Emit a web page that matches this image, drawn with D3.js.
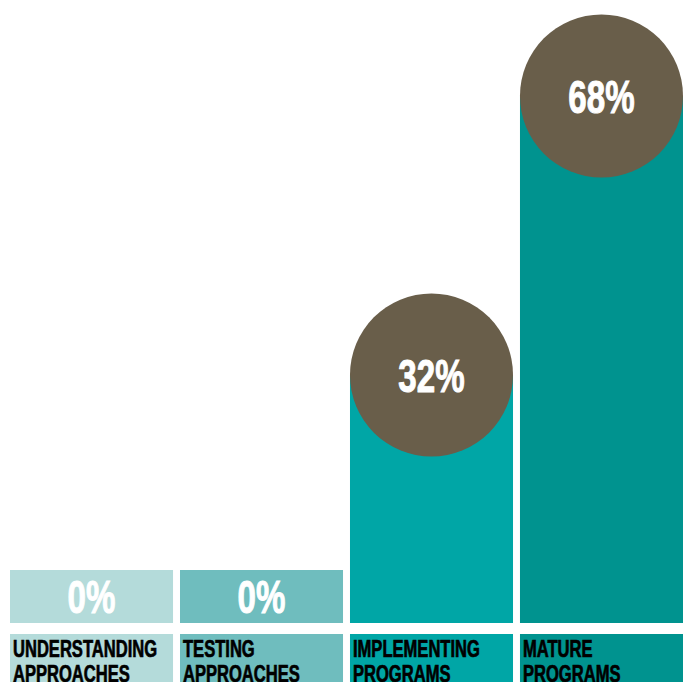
<!DOCTYPE html>
<html>
<head>
<meta charset="utf-8">
<script src="https://cdn.jsdelivr.net/npm/d3@7"></script>
<style>
  html, body { margin: 0; padding: 0; background: #fff; }
  svg { display: block; }
</style>
</head>
<body>
<script>
'use strict';

// chart data
const stages = ["understanding", "testing", "implementing", "mature"];
const labelLines = [
  ["UNDERSTANDING", "APPROACHES"],
  ["TESTING", "APPROACHES"],
  ["IMPLEMENTING", "PROGRAMS"],
  ["MATURE", "PROGRAMS"]
];
const shares = [0, 0, 32, 68];

// colours per column
const fills = ["#b4dbda", "#6fbdbe", "#00a6a6", "#00938f"];
const bubbleColor = "#695e4a";
const fontFam = "'Liberation Sans', Arial, sans-serif";
const squeeze = 0.72; // condensed look

const width = 685, height = 682;
const baseY = 623;      // bottom of bars
const zeroBox = 53;     // height of the box drawn for a 0% value

const svg = d3.select("body").append("svg")
  .attr("width", width)
  .attr("height", height);

const x = d3.scaleBand()
  .domain(stages)
  .range([10, 683])
  .paddingInner(0.041)
  .paddingOuter(0);

const y = d3.scaleLinear()
  .domain([0, 100])
  .range([baseY, baseY - 775]);

const rows = stages.map((s, i) => ({ stage: s, value: shares[i], lines: labelLines[i], fill: fills[i] }));

// bars
const col = svg.selectAll(".col")
  .data(rows)
  .enter().append("g")
  .attr("class", "col");

col.append("rect")
  .attr("x", d => x(d.stage))
  .attr("width", x.bandwidth())
  .attr("y", d => d.value > 0 ? y(d.value) : baseY - zeroBox)
  .attr("height", d => d.value > 0 ? baseY - y(d.value) : zeroBox)
  .attr("fill", d => d.fill);

// bubbles on top of non-zero bars
const big = col.filter(d => d.value > 0);
big.append("circle")
  .attr("cx", d => x(d.stage) + x.bandwidth() / 2)
  .attr("cy", d => y(d.value))
  .attr("r", x.bandwidth() / 2)
  .attr("fill", bubbleColor);

// value text
function valueText(sel, cyFn) {
  sel.append("text")
    .attr("transform", d => "translate(" + (x(d.stage) + x.bandwidth() / 2) + "," + (cyFn(d) + 16.5) + ") scale(" + squeeze + ",1)")
    .attr("text-anchor", "middle")
    .style("font-family", fontFam)
    .style("font-weight", "bold")
    .style("font-size", "46px")
    .attr("fill", "#fff")
    .attr("stroke", "#fff")
    .attr("stroke-width", 1)
    .text(d => d.value + "%");
}
valueText(big, d => y(d.value));
valueText(col.filter(d => d.value === 0), d => baseY - zeroBox / 2);

// category boxes
col.append("rect")
  .attr("x", d => x(d.stage))
  .attr("width", x.bandwidth())
  .attr("y", 634)
  .attr("height", 60)
  .attr("fill", d => d.fill);

col.each(function(d) {
  const g = d3.select(this);
  d.lines.forEach((ln, j) => {
    g.append("text")
      .attr("transform", "translate(" + (x(d.stage) + 3) + "," + (657 + j * 25) + ") scale(" + squeeze + ",1)")
      .style("font-family", fontFam)
      .style("font-weight", "bold")
      .style("font-size", "23px")
      .attr("fill", "#000")
      .attr("stroke", "#000")
      .attr("stroke-width", 0.7)
      .text(ln);
  });
});
</script>
</body>
</html>
